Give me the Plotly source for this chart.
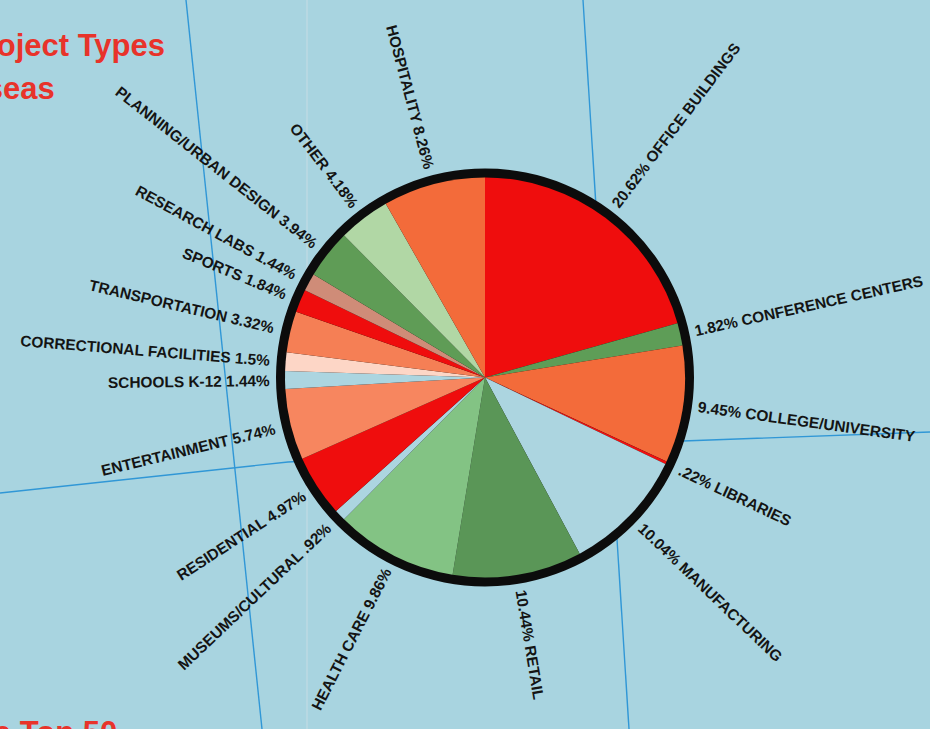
import math
import plotly.graph_objects as go

# Share of overseas work by project type, clockwise from 12 o'clock
categories = [
    "OFFICE BUILDINGS", "CONFERENCE CENTERS", "COLLEGE/UNIVERSITY", "LIBRARIES",
    "MANUFACTURING", "RETAIL", "HEALTH CARE", "MUSEUMS/CULTURAL", "RESIDENTIAL",
    "ENTERTAINMENT", "SCHOOLS K-12", "CORRECTIONAL FACILITIES", "TRANSPORTATION",
    "SPORTS", "RESEARCH LABS", "PLANNING/URBAN DESIGN", "OTHER", "HOSPITALITY",
]
shares = [
    20.62, 1.82, 9.45, 0.22, 10.04, 10.44, 9.86, 0.92, 4.97,
    5.74, 1.44, 1.5, 3.32, 1.84, 1.44, 3.94, 4.18, 8.26,
]
slice_colors = [
    "#ef0d0d", "#5e9d57", "#f36b3a", "#ee1010", "#acd5e0", "#5a9657",
    "#83c384", "#acd5e0", "#ef0d0d", "#f7865f", "#acd5e0", "#fdd6c6",
    "#f57f55", "#ef0d0d", "#cf8c78", "#5f9c56", "#b1d7a5", "#f36b3a",
]

W, H = 930, 729
CX, CY = 485, 377.5          # pie centre in pixels
R_PIE = 200                  # coloured disc radius
R_RING = 209                 # black rim radius
LABEL_START = 215            # radial distance where each label begins
LABEL_SIZE = 15.4
BG = "#a8d4e0"
GRID = "#3097d6"
TITLE_RED = "#e8332a"

# Liberation Sans Bold advance widths (per 1000 em) for label sizing
ADV = {c: w for c, w in zip("ABCDEFGHIJKLMNOPQRSTUVWXYZ",
                            [722, 722, 722, 722, 667, 611, 778, 722, 278, 556, 722, 611, 833,
                             722, 778, 667, 778, 722, 667, 611, 722, 667, 944, 667, 667, 611])}
ADV.update({d: 556 for d in "0123456789"})
ADV.update({" ": 278, ".": 278, "%": 889, "/": 278, "-": 333})


def text_width(s, size=LABEL_SIZE):
    return sum(ADV.get(ch, 600) for ch in s) * size / 1000.0


def px(x, y):
    return x / W, 1 - y / H


def disc_domain(r):
    return dict(x=[(CX - r) / W, (CX + r) / W], y=[1 - (CY + r) / H, 1 - (CY - r) / H])


fig = go.Figure()

# black rim: a full disc just behind the coloured pie
fig.add_trace(go.Pie(
    values=[1], marker=dict(colors=["#0c0c0c"], line=dict(width=0)),
    textinfo="none", hoverinfo="skip", showlegend=False, sort=False,
    domain=disc_domain(R_RING),
))

fig.add_trace(go.Pie(
    labels=categories, values=shares,
    marker=dict(colors=slice_colors, line=dict(width=0)),
    sort=False, direction="clockwise", rotation=0,
    textinfo="none", showlegend=False,
    hovertemplate="%{label}: %{value}%<extra></extra>",
    domain=disc_domain(R_PIE),
))

# radial labels at each slice's mid-angle
annotations = []
total = sum(shares)
cum = 0.0
for name, v in zip(categories, shares):
    mid = (cum + v / 2) / total * 360.0
    cum += v
    pct = f"{v:g}".lstrip("0") + "%"
    if mid < 180:
        text, angle = f"{pct} {name}", mid - 90
    else:
        text, angle = f"{name} {pct}", mid - 270
    r = LABEL_START + text_width(text) / 2
    t = math.radians(mid)
    x, y = px(CX + r * math.sin(t), CY - r * math.cos(t))
    annotations.append(dict(
        x=x, y=y, xref="paper", yref="paper", text=text, showarrow=False,
        textangle=angle, xanchor="center", yanchor="middle",
        font=dict(family="Liberation Sans, Arial, sans-serif", size=LABEL_SIZE,
                  color="#141414", weight="bold"),
    ))

# headline pieces running off the left edge of the page
title_font = dict(family="Liberation Sans, Arial, sans-serif",
                  size=31, color=TITLE_RED, weight="bold")
for text, xr, ytop in [("Project Types", 167, 26), ("Overseas", 57, 69), ("The Top 50", 119, 713)]:
    x, y = px(xr, ytop)
    annotations.append(dict(x=x, y=y, xref="paper", yref="paper", text=text,
                            showarrow=False, xanchor="right", yanchor="top",
                            font=title_font))

# map grid lines running behind the pie
def seg(points, color=GRID, width=1.4):
    d = "M " + " L ".join(f"{x / W:.5f},{1 - y / H:.5f}" for x, y in points)
    return dict(type="path", path=d, xref="paper", yref="paper", layer="below",
                line=dict(color=color, width=width))


shapes = [
    seg([(186, 0), (262, 729)]),
    seg([(583, 0), (629, 729)]),
    seg([(0, 493), (288, 462), (683, 441), (930, 432)]),
    seg([(307, 0), (307, 729)], color="rgba(255,235,235,0.35)", width=1),
]

fig.update_layout(
    width=W, height=H,
    margin=dict(l=0, r=0, t=0, b=0),
    paper_bgcolor=BG, plot_bgcolor=BG,
    showlegend=False,
    annotations=annotations,
    shapes=shapes,
)

fig.write_html("out.html")
